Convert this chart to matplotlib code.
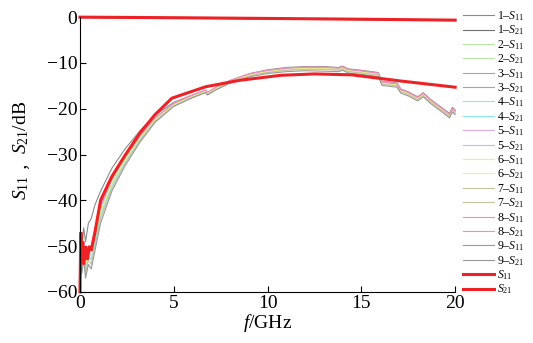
import matplotlib
matplotlib.use("Agg")
import matplotlib.pyplot as plt

plt.rcParams['font.family'] = ['Liberation Serif', 'DejaVu Serif']
plt.rcParams['mathtext.fontset'] = 'custom'
plt.rcParams['mathtext.rm'] = 'Liberation Serif'
plt.rcParams['mathtext.it'] = 'Liberation Serif:italic'

#======================
# measured data
#======================
f_meas = [0, 0.05, 0.1, 0.2, 0.3, 0.45, 0.6, 0.8, 1.1, 1.7, 2.4, 3.2, 4.0, 5.0, 6.0, 6.7, 6.8, 7.2,
          8.0, 9.0, 9.2, 10.0, 11.0, 12.0, 13.0, 13.8, 14.0, 14.3, 15.0, 15.9, 16.1, 16.9, 17.1,
          17.5, 18.0, 18.3, 18.7, 19.2, 19.7, 19.85, 20.0]

s11_1 = [-55, -47, -50, -46, -49, -45, -44, -41, -38, -33, -28.8, -24.8, -21.4, -18.6, -17.0, -16.0, -16.5, -15.5,
         -13.9, -12.4, -12.2, -11.5, -11.0, -10.8, -10.8, -11.0, -10.7, -11.3, -11.6, -12.1, -14.0, -14.4, -15.7,
         -16.3, -17.4, -16.5, -18.0, -19.5, -21.0, -19.7, -20.3]
s11_2 = [-58, -50, -54, -51, -55, -52, -53, -49, -43, -36.5, -31.3, -26.5, -22.5, -19.2, -17.3, -16.2, -16.7, -15.7,
         -14.1, -12.7, -12.5, -11.9, -11.4, -11.2, -11.2, -11.4, -11.1, -11.7, -12.0, -12.5, -14.4, -14.8, -16.1,
         -16.7, -17.8, -16.9, -18.4, -19.9, -21.5, -20.2, -20.8]
s11_3 = [-56, -48, -52, -49, -53, -50, -51, -47, -41.5, -35.5, -30.8, -26.1, -22.1, -18.9, -17.1, -16.0, -16.5, -15.5,
         -13.9, -12.5, -12.3, -11.7, -11.2, -11.0, -11.0, -11.2, -10.9, -11.5, -11.8, -12.3, -14.2, -14.6, -15.9,
         -16.5, -17.6, -16.7, -18.2, -19.7, -21.3, -20.0, -20.6]
s11_4 = [-58, -51, -55, -52, -55, -52, -53, -49, -43.5, -37, -31.8, -26.8, -22.7, -19.3, -17.4, -16.3, -16.8, -15.8,
         -14.2, -12.8, -12.6, -12.0, -11.5, -11.3, -11.3, -11.5, -11.2, -11.8, -12.1, -12.6, -14.5, -14.9, -16.2,
         -16.8, -17.9, -17.0, -18.5, -20.0, -21.6, -20.3, -20.9]
s11_5 = [-57, -49, -53, -50, -54, -51, -52, -48, -42, -36, -31, -26.3, -22.3, -19.0, -17.2, -16.1, -16.6, -15.6,
         -14.0, -12.6, -12.4, -11.8, -11.3, -11.1, -11.1, -11.3, -11.0, -11.6, -11.9, -12.4, -14.3, -14.7, -16.0,
         -16.6, -17.7, -16.8, -18.3, -19.8, -21.4, -20.1, -20.7]
s11_6 = [-57, -50, -53, -51, -54, -52, -52, -48, -42.5, -36.2, -31.1, -26.4, -22.4, -19.1, -17.3, -16.2, -16.7, -15.7,
         -14.1, -12.7, -12.5, -11.9, -11.4, -11.2, -11.2, -11.4, -11.1, -11.7, -12.0, -12.5, -14.4, -14.8, -16.1,
         -16.7, -17.8, -16.9, -18.4, -19.9, -21.5, -20.2, -20.8]
s11_7 = [-58, -50, -54, -51, -56, -53, -54, -50, -44, -37.5, -32, -27, -22.8, -19.4, -17.5, -16.4, -16.9, -15.9,
         -14.3, -12.9, -12.7, -12.1, -11.6, -11.4, -11.4, -11.6, -11.3, -11.9, -12.2, -12.7, -14.6, -15.0, -16.3,
         -16.9, -18.0, -17.1, -18.6, -20.1, -21.7, -20.4, -21.0]
s11_8 = [-56, -48, -52, -49, -53, -50, -50, -46, -41, -35, -30.5, -25.9, -22.0, -18.8, -17.0, -15.9, -16.4, -15.4,
         -13.8, -12.4, -12.2, -11.6, -11.1, -10.9, -10.9, -11.1, -10.8, -11.4, -11.7, -12.2, -14.1, -14.5, -15.8,
         -16.4, -17.5, -16.6, -18.1, -19.6, -21.2, -19.9, -20.5]
s11_9 = [-59, -52, -56, -53, -57, -54, -55, -51, -45, -38, -32.5, -27.3, -23.0, -19.5, -17.6, -16.5, -17.0, -16.0,
         -14.4, -13.1, -12.9, -12.3, -11.9, -11.7, -11.8, -11.9, -11.6, -12.2, -12.5, -13.0, -14.9, -15.3, -16.6,
         -17.2, -18.3, -17.4, -18.9, -20.4, -22.0, -20.7, -21.3]

f_s21 = [0, 5, 10, 15, 20]
s21_1 = [-0.03, -0.18, -0.32, -0.48, -0.66]
s21_2 = [-0.05, -0.20, -0.35, -0.52, -0.70]
s21_3 = [-0.04, -0.19, -0.34, -0.50, -0.68]
s21_4 = [-0.06, -0.22, -0.37, -0.54, -0.72]
s21_5 = [-0.05, -0.21, -0.36, -0.52, -0.71]
s21_6 = [-0.04, -0.20, -0.35, -0.51, -0.69]
s21_7 = [-0.06, -0.23, -0.38, -0.55, -0.74]
s21_8 = [-0.03, -0.19, -0.33, -0.49, -0.67]
s21_9 = [-0.07, -0.24, -0.40, -0.57, -0.76]

# simulated curves
f_sim = [0, 0.05, 0.1, 0.15, 0.2, 0.3, 0.4, 0.5, 0.6, 0.8, 1.1, 1.7, 2.4, 3.2, 4.0, 4.9, 6.7, 8.5,
         10.7, 12.5, 14.5, 17.0, 20.0]
s11_sim = [-60, -47, -52, -49, -54, -50, -53, -50, -51, -47, -40, -34.8, -30.2, -25.3, -21.3, -17.7, -15.2, -13.8,
           -12.7, -12.4, -12.6, -13.9, -15.3]
f_sim21 = [0, 5, 10, 15, 20]
s21_sim = [0.0, -0.12, -0.28, -0.45, -0.65]

s11_all = [s11_1, s11_2, s11_3, s11_4, s11_5, s11_6, s11_7, s11_8, s11_9]
s21_all = [s21_1, s21_2, s21_3, s21_4, s21_5, s21_6, s21_7, s21_8, s21_9]
colors_11 = ['#8a8a8a', '#b9e2a6', '#8ea6d8', '#8ee6e6', '#dcaedc', '#f2f07a', '#c4c4a0', '#f08cbc', '#9a9a9a']
colors_21 = ['#707070', '#b9e2a6', '#8ea6d8', '#8ee6e6', '#dcaedc', '#f2f07a', '#c4c4a0', '#f08cbc', '#9a9a9a']

#======================
# figure
#======================
fig = plt.figure(figsize=(5.33, 3.43), dpi=100)
ax = fig.add_axes([0.150, 0.149, 0.704, 0.801])

handles = []
labels = []
for i in range(9):
    h21, = ax.plot(f_s21, s21_all[i], color=colors_21[i], lw=0.8, clip_on=False)
    h11, = ax.plot(f_meas, s11_all[i], color=colors_11[i], lw=0.8, clip_on=False)
    handles += [h11, h21]
    labels += ['%d–$S_{11}$' % (i + 1), '%d–$S_{21}$' % (i + 1)]

red = '#ec2227'
hs11, = ax.plot(f_sim, s11_sim, color=red, lw=2.2, clip_on=False, solid_joinstyle='miter')
hs21, = ax.plot(f_sim21, s21_sim, color=red, lw=2.2, clip_on=False)
handles += [hs11, hs21]
labels += ['$S_{11}$', '$S_{21}$']

ax.set_xlim(0, 20)
ax.set_ylim(-60, 0)
ax.set_xticks([0, 5, 10, 15, 20])
ax.set_yticks([0, -10, -20, -30, -40, -50, -60])
ax.spines['top'].set_visible(False)
ax.spines['right'].set_visible(False)
ax.tick_params(direction='in', length=4, width=0.8, labelsize=14, pad=2)
ax.set_xlabel('$f$/GHz', fontsize=14, labelpad=0)

# y label: S11，S21/dB (fullwidth comma needs a CJK font)
lab_kw = dict(rotation=90, rotation_mode='anchor', va='baseline')
fig.text(0.049, 1 - 188 / 343, '$S_{11}$', ha='center', fontsize=14, **lab_kw)
fig.text(0.049, 1 - 168 / 343, '，', ha='left', fontsize=11, family=['Noto Sans CJK SC'], **lab_kw)
fig.text(0.049, 1 - 127 / 343, '$S_{21}$/dB', ha='center', fontsize=14, **lab_kw)

fig.legend(handles, labels, loc='upper left', bbox_to_anchor=(0.869, 0.973), frameon=False,
           fontsize=8.5, handlelength=2.6, handletextpad=0.3, labelspacing=0.05, borderaxespad=0,
           borderpad=0)

fig.savefig('out.png', dpi=100)
